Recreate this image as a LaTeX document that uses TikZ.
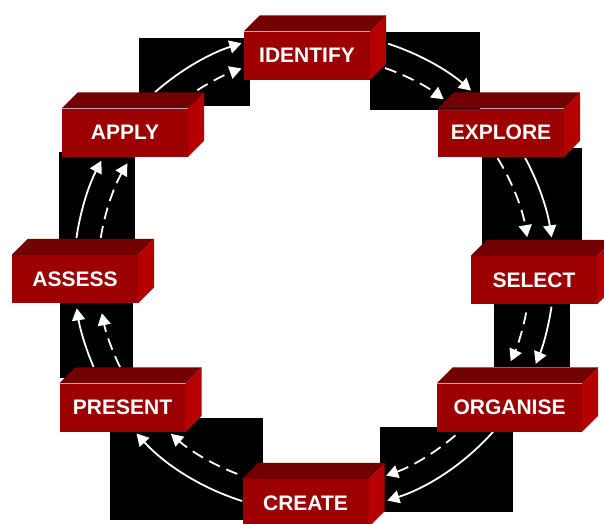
\documentclass[tikz,border=0pt]{standalone}
\usepackage{fontspec}
\setmainfont{Liberation Sans}
\usetikzlibrary{arrows.meta,calc}
\definecolor{frontc}{HTML}{9C0000}
\definecolor{topc}{HTML}{720000}
\definecolor{sidec}{HTML}{B40000}
\tikzset{
  stagebox/.style={fill=frontc, minimum width=126pt, minimum height=48pt, inner sep=0pt,
    text=white, font=\fontsize{21}{25}\selectfont\bfseries},
  blackbg/.style={fill=black},
  solidarc/.style={draw=white, line width=1.8pt, -{Triangle[length=12pt,width=13pt]}},
  dasharc/.style={solidarc, dash pattern=on 12pt off 7pt},
}
\newcommand\boxfaces[1]{%
  \fill[topc] (#1.north west) -- ++(16,-16) -- ([shift={(16,-16)}]#1.north east) -- (#1.north east) -- cycle;
  \fill[sidec] (#1.north east) -- ++(16,-16) -- ([shift={(16,-16)}]#1.south east) -- (#1.south east) -- cycle;}
\newcommand\stagearc[4]{% style, start angle, end angle, radius
  \draw[#1] ($(C)+(#2:#4)$) arc[start angle=#2, end angle=#3, radius=#4];}
\begin{document}
\begin{tikzpicture}[x=1pt,y=-1pt]
\useasboundingbox (0,0) rectangle (604,523);
\fill[white] (0,0) rectangle (604,523);
\coordinate (C) at (314,272);
% black backgrounds
\fill[blackbg] (139,38) rectangle (250,106);
\fill[blackbg] (370,32) rectangle (480,110);
\fill[blackbg] (482,148) rectangle (582,258);
\fill[blackbg] (494,300) rectangle (570,367);
\fill[blackbg] (380,427) rectangle (513,512);
\fill[blackbg] (110,418) rectangle (263,520);
\fill[blackbg] (60,300) rectangle (133,378);
\fill[blackbg] (59,152) rectangle (135,258);
% arrows: solid outer, dashed inner
\stagearc{solidarc}{228.5}{252.4}{240}
\stagearc{dasharc}{237.3}{250.4}{216}
\stagearc{solidarc}{288}{310.9}{240}
\stagearc{dasharc}{289.2}{306.9}{216}
\stagearc{solidarc}{331.6}{351.7}{240}
\stagearc{dasharc}{328.2}{350.7}{216}
\stagearc{solidarc}{8.3}{22.5}{240}
\stagearc{dasharc}{10.8}{24.4}{216}
\stagearc{solidarc}{41.2}{72.2}{240}
\stagearc{dasharc}{49.1}{70.5}{216}
\stagearc{solidarc}{107.4}{137.7}{240}
\stagearc{dasharc}{110.8}{131.5}{216}
\stagearc{solidarc}{156.7}{171.3}{240}
\stagearc{dasharc}{153.9}{169}{216}
\stagearc{solidarc}{188.1}{207.6}{240}
\stagearc{dasharc}{189.1}{210.2}{216}
% boxes
\node[stagebox] (identify) at (307,55.5) {IDENTIFY};
\boxfaces{identify}
\node[stagebox] (explore) at (501,132.5) {EXPLORE};
\boxfaces{explore}
\node[stagebox] (select) at (534,280) {SELECT};
\boxfaces{select}
\node[stagebox, minimum width=145pt] (organise) at (509.5,407.5) {ORGANISE};
\boxfaces{organise}
\node[stagebox] (create) at (305.5,503) {CREATE};
\boxfaces{create}
\node[stagebox] (present) at (122.5,407.5) {PRESENT};
\boxfaces{present}
\node[stagebox] (assess) at (75,279) {ASSESS};
\boxfaces{assess}
\node[stagebox] (apply) at (125,132.5) {APPLY};
\boxfaces{apply}
\end{tikzpicture}
\end{document}
